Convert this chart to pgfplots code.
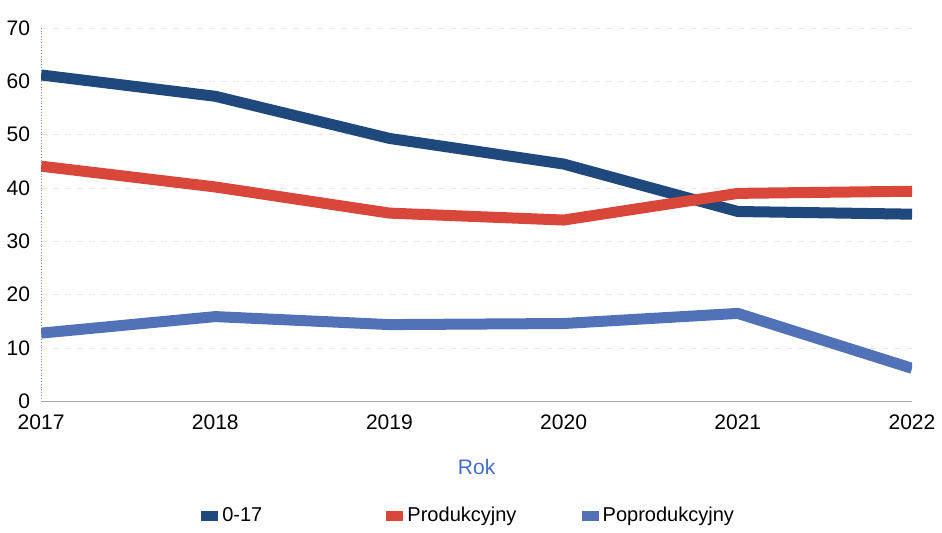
\documentclass[border=0pt]{standalone}
\usepackage{fontspec}
\setmainfont{Liberation Sans}
\usepackage{pgfplots}
\pgfplotsset{compat=1.18}
\definecolor{navy}{RGB}{31,72,124}
\definecolor{redl}{RGB}{217,70,58}
\definecolor{lblue}{RGB}{82,114,184}
\definecolor{rokblue}{RGB}{70,110,200}
\definecolor{axisblue}{RGB}{120,140,220}

\begin{document}
\begin{tikzpicture}
\begin{axis}[
    name=main,
    scale only axis,
    width=435pt, height=186.5pt,
    xmin=2017, xmax=2022,
    ymin=0, ymax=70,
    xtick={2017,...,2022},
    ytick={0,10,...,70},
    xticklabel style={/pgf/number format/1000 sep={}, yshift=-3pt},
    yticklabel style={xshift=-2pt},
    /pgf/number format/assume math mode=true,
    tick label style={font=\fontsize{10.5}{12}\selectfont},
    major tick length=0pt,
    axis x line*=bottom,
    axis y line*=left,
    x axis line style={draw=gray!70, thin, -},
    y axis line style={draw=axisblue, densely dotted, thin, -},
    ymajorgrids,
    grid style={draw=gray!18, dashed, thin},
    xlabel={Rok},
    xlabel style={font=\fontsize{10.5}{12}\selectfont, text=rokblue, yshift=-8pt},
    legend style={at={(0.492,-0.26)}, anchor=north, draw=none, legend columns=3,
        font=\fontsize{10}{12}\selectfont, /tikz/every even column/.append style={column sep=4pt}},
    legend image code/.code={\fill[#1, draw=none] (0pt,-2.5pt) rectangle (8.5pt,2.5pt);},
    line join=round,
]
\addplot[navy, line width=5.5pt] coordinates {(2017,61.2) (2018,57.2) (2019,49.3) (2020,44.5) (2021,35.6) (2022,35.1)};
\addlegendentry{\makebox[76pt][l]{0-17}}
\addplot[redl, line width=5.5pt] coordinates {(2017,44.1) (2018,40.2) (2019,35.3) (2020,34.0) (2021,39.0) (2022,39.4)};
\addlegendentry{\makebox[81pt][l]{Produkcyjny}}
\addplot[lblue, line width=5.5pt] coordinates {(2017,12.8) (2018,15.9) (2019,14.4) (2020,14.6) (2021,16.5) (2022,6.2)};
\addlegendentry{Poprodukcyjny}
\end{axis}
\path (main.north west) ++(0,14pt);
\end{tikzpicture}
\end{document}
